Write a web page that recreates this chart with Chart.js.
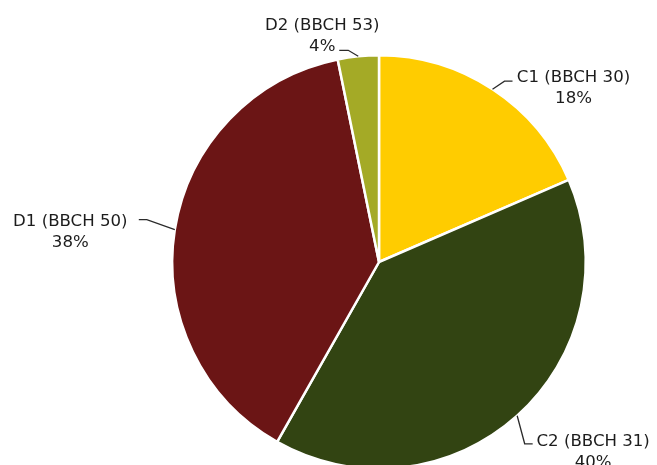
<!DOCTYPE html>
<html>
<head>
<meta charset="utf-8">
<script src="https://cdn.jsdelivr.net/npm/chart.js@4.4.1/dist/chart.umd.min.js"></script>
<style>
  html, body { margin: 0; padding: 0; background: #fff; overflow: hidden; }
  #wrap { width: 657px; height: 480px; position: relative; }
</style>
</head>
<body>
<div id="wrap"><canvas id="pieChart"></canvas></div>
<script>
// stages (labels as printed)
const stages = ['C1 (BBCH 30)', 'C2 (BBCH 31)', 'D1 (BBCH 50)', 'D2 (BBCH 53)'];
const shares = [18.5, 39.7, 38.6, 3.2];
const pctLabels = ['18%', '40%', '38%', '4%'];
const colors = ['#FFCC00', '#324412', '#6B1515', '#A4AA26'];

// leader line: elbow offset from edge, horizontal run, text centre from line end
const leaders = [
    { ex: 12, ey: -8, h: 8, tdx: 61, tdy: -5.5 },
    { ex: 7.5, ey: 28, h: 8, tdx: 60.5, tdy: -4 },
    { ex: -28, ey: -10, h: 8, tdx: -68.5, tdy: 0 },
    { ex: -10, ey: -6, h: 9, tdx: -17, tdy: -26.5 }
];

const FONT = '16.6px Verdana, "DejaVu Sans", sans-serif';

const calloutPlugin = {
    id: 'callouts',
    afterDatasetsDraw(c) {
        const ctx = c.ctx;
        const arcs = c.getDatasetMeta(0).data;
        ctx.save();
        ctx.font = FONT;
        ctx.textAlign = 'center';
        ctx.textBaseline = 'alphabetic';
        arcs.forEach((arc, i) => {
            const p = arc.getProps(['x', 'y', 'startAngle', 'endAngle', 'outerRadius'], true);
            const mid = (p.startAngle + p.endAngle) / 2;
            const sx = p.x + Math.cos(mid) * p.outerRadius;
            const sy = p.y + Math.sin(mid) * p.outerRadius;
            const L = leaders[i];
            const right = Math.cos(mid) >= 0;
            const bx = sx + L.ex, by = sy + L.ey;
            const endX = bx + (right ? L.h : -L.h);

            ctx.strokeStyle = '#2a2a2a';
            ctx.lineWidth = 1.3;
            ctx.beginPath();
            ctx.moveTo(sx, sy);
            ctx.lineTo(bx, by);
            ctx.lineTo(endX, by);
            ctx.stroke();

            const tx = endX + L.tdx;
            const ty = by + L.tdy;
            ctx.fillStyle = '#1c1c1c';
            ctx.fillText(stages[i], tx, ty + 6);
            ctx.fillText(pctLabels[i], tx, ty + 21 + 6);
        });
        ctx.restore();
    }
};

const chart = new Chart(document.getElementById('pieChart'), {
    type: 'pie',
    data: {
        labels: stages,
        datasets: [{
            data: shares,
            backgroundColor: colors,
            borderColor: '#ffffff',
            borderWidth: 2.5,
            hoverBorderWidth: 2.5,
            hoverOffset: 0
        }]
    },
    options: {
        responsive: true,
        maintainAspectRatio: false,
        animation: false,
        layout: { padding: { top: 54, bottom: 10, left: 150, right: 49 } },
        plugins: {
            legend: { display: false },
            tooltip: { enabled: false }
        }
    },
    plugins: [calloutPlugin]
});
</script>
</body>
</html>
